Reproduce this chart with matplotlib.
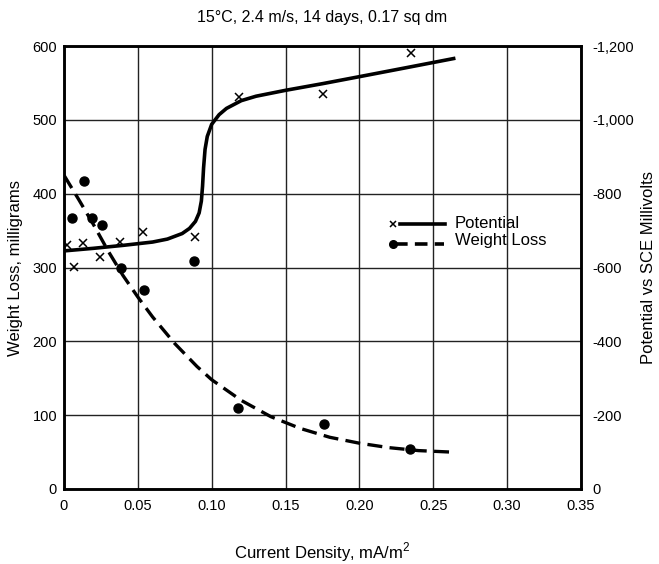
import numpy as np
import matplotlib.pyplot as plt
from matplotlib.ticker import FuncFormatter

plt.rcParams['font.family'] = ['Liberation Sans', 'DejaVu Sans']
plt.rcParams['mathtext.fontset'] = 'custom'
plt.rcParams['mathtext.rm'] = 'Liberation Sans'

# measured points
wl_x = [0.0054, 0.0135, 0.019, 0.026, 0.0386, 0.054, 0.0878, 0.118, 0.176, 0.234]
wl_y = [367, 417, 367, 357, 300, 269, 309, 110, 88, 54]
pot_x = [0.0022, 0.0126, 0.0068, 0.0244, 0.038, 0.0537, 0.0887, 0.1187, 0.1756, 0.235]
pot_y = [-661, -666, -601, -628, -670, -695, -683, -1061, -1070, -1182]

# fitted curves
pot_fit_x = [0, 0.02, 0.04, 0.06, 0.07, 0.08, 0.085, 0.089, 0.0915, 0.093, 0.0938,
             0.0945, 0.0955, 0.097, 0.10, 0.105, 0.11, 0.12, 0.13, 0.15, 0.175, 0.2, 0.23, 0.265]
pot_fit_y = [-645, -652, -660, -669, -677, -692, -706, -725, -748, -780, -820,
             -870, -920, -955, -988, -1014, -1031, -1052, -1064, -1080, -1098, -1117, -1140, -1167]
wl_fit_x = [0, 0.01, 0.02, 0.03, 0.04, 0.05, 0.06, 0.075, 0.09, 0.1, 0.12, 0.14,
            0.16, 0.18, 0.2, 0.22, 0.24, 0.262]
wl_fit_y = [425, 392, 358, 322, 289, 260, 233, 197, 166, 148, 120, 98,
            82, 70, 62, 56, 52, 50]

xticks = [0, 0.05, 0.10, 0.15, 0.20, 0.25, 0.30, 0.35]
xticklabels = ['0', '0.05', '0.10', '0.15', '0.20', '0.25', '0.30', '0.35']

fig = plt.figure(figsize=(6.59, 5.64), dpi=100)
ax = fig.add_axes([0.0971, 0.133, 0.7845, 0.7854])
ax2 = ax.twinx()

ax.set_xlim(0, 0.35)
ax.set_ylim(0, 600)
ax2.set_ylim(0, -1200)

ax.set_xticks(xticks)
ax.set_xticklabels(xticklabels)
ax.set_yticks(range(0, 601, 100))
ax2.set_yticks(range(0, -1201, -200))
ax2.yaxis.set_major_formatter(FuncFormatter(lambda v, p: '{:,.0f}'.format(v)))

ax.grid(True, color='#222222', linewidth=1.0)
ax.set_axisbelow(True)
for a in (ax, ax2):
    a.tick_params(length=0, labelsize=10.5, pad=5)
    for s in a.spines.values():
        s.set_linewidth(1.8)
ax.tick_params(axis='x', pad=7)
ax2.tick_params(pad=8)

ax.plot(wl_fit_x, wl_fit_y, color='black', lw=2.4, dashes=(4.5, 2.2))
ax.plot(wl_x, wl_y, 'o', color='black', ms=6.5)
ax2.plot(pot_fit_x, pot_fit_y, color='black', lw=2.6, solid_capstyle='butt')
ax2.plot(pot_x, pot_y, 'x', color='black', ms=6, mew=1.1)

# legend
tr = ax.transAxes
ax.plot([0.636], [0.598], 'x', color='black', ms=5, mew=1.1, transform=tr, clip_on=False)
ax.plot([0.650, 0.737], [0.598, 0.598], color='black', lw=2.6, transform=tr)
ax.text(0.756, 0.600, 'Potential', transform=tr, fontsize=12, va='center')
ax.plot([0.636], [0.553], 'o', color='black', ms=5.5, transform=tr)
ax.plot([0.640, 0.735], [0.553, 0.553], color='black', lw=2.6, dashes=(3.5, 2.0), transform=tr)
ax.text(0.756, 0.560, 'Weight Loss', transform=tr, fontsize=12, va='center')

ax.set_xlabel('Current Density, mA/m$^{2}$', fontsize=12, labelpad=20)
ax.set_ylabel('Weight Loss, milligrams', fontsize=12, labelpad=7)
ax2.set_ylabel('Potential vs SCE Millivolts', fontsize=12, rotation=90, labelpad=5)
ax.set_title('15°C, 2.4 m/s, 14 days, 0.17 sq dm', fontsize=11.5, pad=17)

fig.savefig('out.png', dpi=100)
